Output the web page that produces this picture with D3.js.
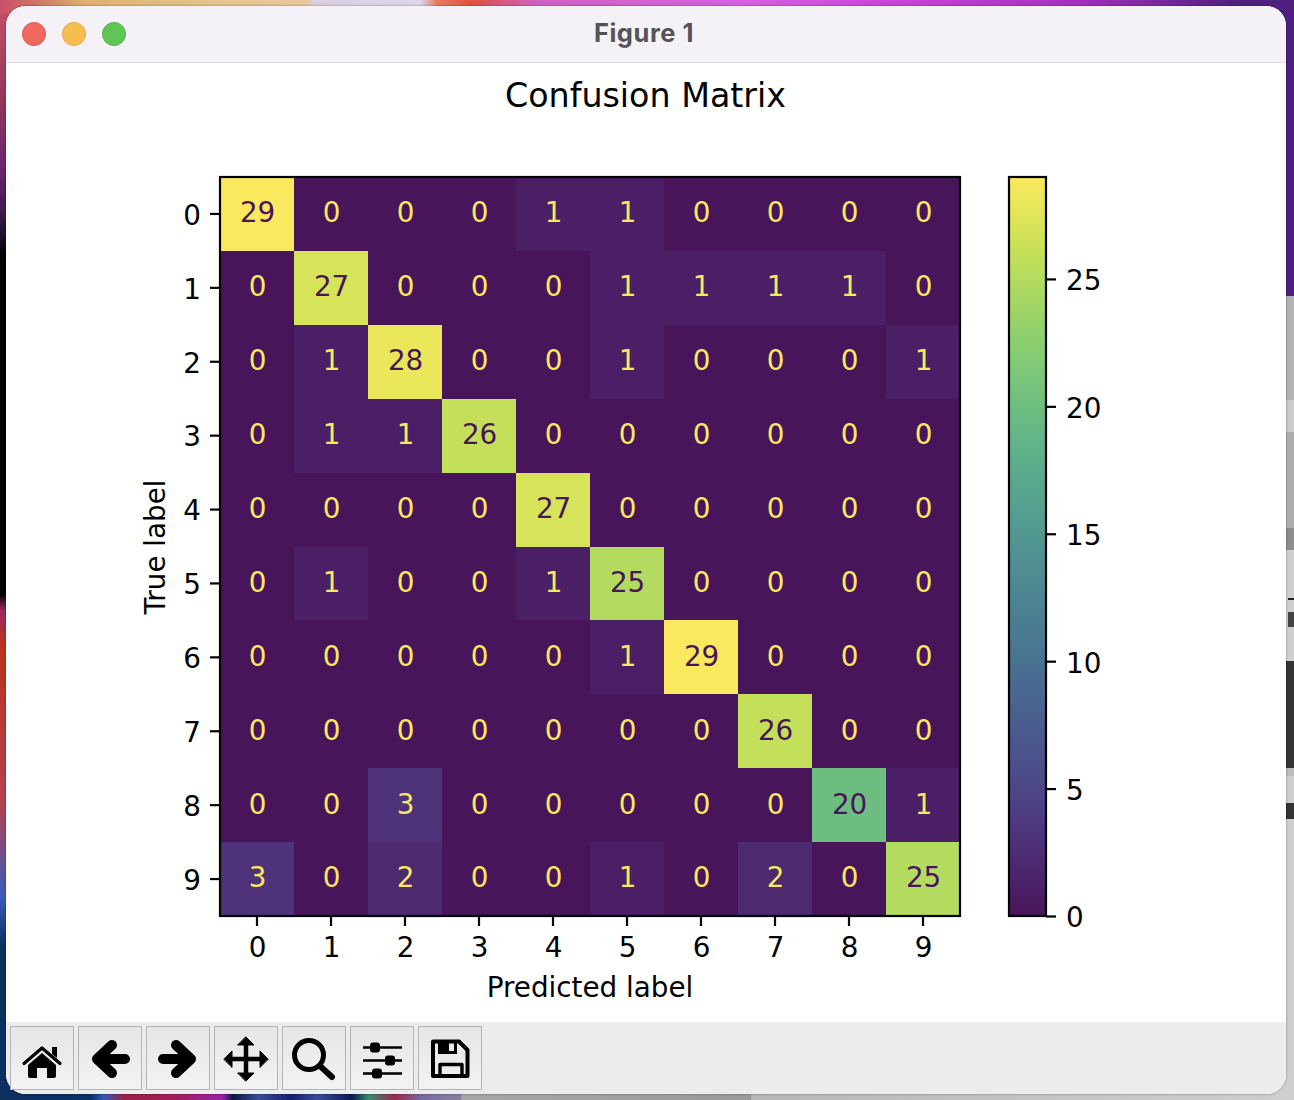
<!DOCTYPE html>
<html>
<head>
<meta charset="utf-8">
<script src="https://cdn.jsdelivr.net/npm/d3@7"></script>
<style>
html,body{margin:0;padding:0;background:#000;overflow:hidden}
svg{display:block}
text{font-family:"DejaVu Sans",sans-serif}
</style>
</head>
<body>
<svg id="c" width="1294" height="1100" viewBox="0 0 1294 1100"></svg>
<script>
// ---- chart data
const predictedLabels = ["0","1","2","3","4","5","6","7","8","9"];
const trueLabels = ["0","1","2","3","4","5","6","7","8","9"];
const row0 = [29,0,0,0,1,1,0,0,0,0];
const row1 = [0,27,0,0,0,1,1,1,1,0];
const row2 = [0,1,28,0,0,1,0,0,0,1];
const row3 = [0,1,1,26,0,0,0,0,0,0];
const row4 = [0,0,0,0,27,0,0,0,0,0];
const row5 = [0,1,0,0,1,25,0,0,0,0];
const row6 = [0,0,0,0,0,1,29,0,0,0];
const row7 = [0,0,0,0,0,0,0,26,0,0];
const row8 = [0,0,3,0,0,0,0,0,20,1];
const row9 = [3,0,2,0,0,1,0,2,0,25];
const matrix = [row0,row1,row2,row3,row4,row5,row6,row7,row8,row9];
const colorbarTicks = [0,5,10,15,20,25];
const chartTitle = "Confusion Matrix";
const xTitle = "Predicted label";
const yTitle = "True label";
const windowTitle = "Figure 1";

// ---- helpers
const svg = d3.select("#c");
const defs = svg.append("defs");
function gradient(id, stops, vertical){
  const g = defs.append("linearGradient").attr("id",id)
    .attr("x1",0).attr("y1",0).attr("x2",vertical?0:1).attr("y2",vertical?1:0);
  stops.forEach(s=>g.append("stop").attr("offset",s[0]).attr("stop-color",s[1]));
}
// viridis as seen through the Display-P3 screenshot profile of the reference
function toP3(c){
  const lin = v => { v/=255; return v<=0.04045? v/12.92 : Math.pow((v+0.055)/1.055,2.4); };
  const gam = v => { v=Math.max(0,Math.min(1,v)); return 255*(v<=0.0031308? v*12.92 : 1.055*Math.pow(v,1/2.4)-0.055); };
  const r=lin(c.r), g=lin(c.g), b=lin(c.b);
  const lift = v => v + (255-v)*0.055;
  return d3.rgb(lift(gam(.8225*r+.1774*g)), lift(gam(.0332*r+.9669*g)), lift(gam(.0171*r+.0724*g+.9108*b))).formatHex();
}
const color = d3.scaleSequential(t=>toP3(d3.rgb(d3.interpolateViridis(t)))).domain([0,29]);

// ---- desktop behind the window
const W=1294,H=1100;
gradient("top",[[0,"#c9506a"],[.03,"#d07868"],[.065,"#e0b070"],[.16,"#e3c58a"],[.238,"#e8c89c"],[.242,"#dccfe2"],[.325,"#dcd6ea"],[.338,"#e87c58"],[.365,"#e05040"],[.415,"#d062c4"],[.575,"#d860e2"],[.7,"#c842d8"],[.83,"#a830c0"],[.955,"#502080"],[1,"#4f1f7f"]],false);
gradient("left",[[0,"#c9506a"],[.09,"#96385a"],[.155,"#6c2370"],[.195,"#3a1a4a"],[.235,"#000"],[.54,"#000"],[.555,"#a0285a"],[.59,"#b9351f"],[.73,"#b54050"],[.815,"#3a5cc0"],[.86,"#0c2f5f"],[1,"#0c2f5f"]],true);
gradient("bot",[[0,"#0c2f5f"],[.07,"#0e3066"],[.08,"#3558b8"],[.096,"#9a2048"],[.14,"#a02060"],[.172,"#9a20a8"],[.18,"#0c1a40"],[.2,"#3a4c9a"],[.225,"#14206a"],[.245,"#3a4c9a"],[.272,"#0c1a50"],[.285,"#3a8a70"],[.305,"#9a2a50"],[.325,"#7a6aa0"],[.356,"#8a80a0"],[.357,"#a8a8a8"],[.58,"#9a9a9a"],[.581,"#b8b8b8"],[1,"#cfcfcf"]],false);
const bg = svg.append("g");
bg.append("rect").attr("width",W).attr("height",H).attr("fill","#000");
bg.append("rect").attr("width",12).attr("height",H).attr("fill","url(#left)");
bg.append("rect").attr("width",W).attr("height",14).attr("fill","url(#top)");
bg.append("rect").attr("y",1086).attr("width",W).attr("height",14).attr("fill","url(#bot)");
// right hand side: other windows peeking out
const side = [[14,296,"#4f1f7f"],[296,400,"#b4b4b4"],[400,432,"#cccccc"],[432,528,"#aeaeae"],[528,550,"#8e8e8e"],[550,661,"#d0d0d0"],[661,768,"#343434"],[768,776,"#bdbdbd"],[776,1086,"#cfcfcf"]];
bg.selectAll("rect.side").data(side).join("rect").attr("class","side")
  .attr("x",1280).attr("width",14).attr("y",d=>d[0]).attr("height",d=>d[1]-d[0]).attr("fill",d=>d[2]);
bg.append("rect").attr("x",1288).attr("y",598).attr("width",6).attr("height",2).attr("fill","#222");
bg.append("rect").attr("x",1288).attr("y",612).attr("width",6).attr("height",15).attr("fill","#444");
bg.append("rect").attr("x",1286).attr("y",803).attr("width",8).attr("height",16).attr("fill","#333");

// ---- window
defs.append("filter").attr("id","shadow").attr("x","-2%").attr("y","-2%").attr("width","104%").attr("height","104%")
  .append("feDropShadow").attr("dx",0).attr("dy",0).attr("stdDeviation",1.5).attr("flood-color","#000").attr("flood-opacity",.35);
defs.append("clipPath").attr("id","win").append("rect").attr("x",6).attr("y",6).attr("width",1280).attr("height",1088).attr("rx",20);
svg.append("rect").attr("x",6).attr("y",6).attr("width",1280).attr("height",1088).attr("rx",20).attr("fill","#fff").attr("filter","url(#shadow)");
const win = svg.append("g").attr("clip-path","url(#win)");
win.append("rect").attr("x",6).attr("y",6).attr("width",1280).attr("height",56).attr("fill","#f4f2f6");
win.append("rect").attr("x",6).attr("y",62).attr("width",1280).attr("height",1).attr("fill","#dcdadd");
win.append("rect").attr("x",6).attr("y",63).attr("width",1280).attr("height",959).attr("fill","#fff");
win.append("rect").attr("x",6).attr("y",1022).attr("width",1280).attr("height",72).attr("fill","#ececec");
[[34,"#f0695f","#d9534a"],[74,"#f6be4f","#dfa23c"],[114,"#5fc554","#4dab43"]].forEach(d=>{
  svg.append("circle").attr("cx",d[0]).attr("cy",34).attr("r",11.6).attr("fill",d[1]).attr("stroke",d[2]).attr("stroke-width",.8);
});
svg.append("text").attr("x",644).attr("y",42).attr("text-anchor","middle")
  .style("font-family","Inter,sans-serif").style("font-weight",700).style("font-size","25.5px").style("letter-spacing","0.55px").attr("fill","#555357").text(windowTitle);

// ---- toolbar
gradient("btn",[[0,"#e5e5e5"],[1,"#f3f3f3"]],true);
const btnX = [10,78,146,214,282,350,418];
const tb = svg.append("g");
tb.selectAll("rect").data(btnX).join("rect").attr("x",d=>d+.5).attr("y",1026.5).attr("width",63).attr("height",63)
  .attr("fill","url(#btn)").attr("stroke","#b3b3b3").attr("stroke-width",1);
const ink = tb.append("g").attr("fill","none").attr("stroke","#000").attr("stroke-linecap","round").attr("stroke-linejoin","round");
// home
ink.append("path").attr("d","M24 1063.5L42 1048L60 1063.5").attr("stroke-width",3.2);
ink.append("path").attr("d","M52 1047h5v11l-5-4z").attr("fill","#000").attr("stroke","none");
ink.append("path").attr("d","M28 1065L42 1053L56 1065V1076a2 2 0 0 1-2 2H47V1068H37V1078H30a2 2 0 0 1-2-2z").attr("fill","#000").attr("stroke","none");
// back / forward
ink.append("path").attr("d","M125 1059H98M112 1045L97 1059L112 1073").attr("stroke-width",10);
ink.append("path").attr("d","M163 1059H190M176 1045L191 1059L176 1073").attr("stroke-width",10);
// move
ink.append("path").attr("d","M228 1059H264M246 1041V1077").attr("stroke-width",4.5).attr("stroke-linecap","butt");
ink.append("path").attr("d","M246 1037l8 8h-16zM246 1081l8-8h-16zM224 1059l8-8v16zM268 1059l-8-8v16z").attr("fill","#000").attr("stroke","#000").attr("stroke-width",1);
// zoom
ink.append("circle").attr("cx",309).attr("cy",1055).attr("r",14.5).attr("stroke-width",5);
ink.append("path").attr("d","M320 1066L332 1077").attr("stroke-width",6);
// sliders
ink.append("path").attr("d","M363 1047.5H402M363 1060.5H402M363 1073.5H402").attr("stroke-width",2.4).attr("stroke-linecap","butt");
[[375,1047.5],[390,1060.5],[377,1073.5]].forEach(k=>{
  ink.append("rect").attr("x",k[0]-5).attr("y",k[1]-5).attr("width",10).attr("height",10).attr("rx",3).attr("fill","#000").attr("stroke","none");
});
// save
ink.append("path").attr("d","M433 1041.5H459L467.5 1050V1076H433z").attr("stroke-width",4);
ink.append("path").attr("d","M438 1041H457V1054H438z M449 1043V1051H454V1043z").attr("fill","#000").attr("fill-rule","evenodd").attr("stroke","none");
ink.append("path").attr("d","M440 1076V1064.5H462V1076").attr("stroke-width",3.4);

// ---- heatmap
const plot = {left:220,right:960,top:177,bottom:916};
const x = d3.scaleBand().domain(predictedLabels).range([plot.left,plot.right]);
const y = d3.scaleBand().domain(trueLabels).range([plot.top,plot.bottom]);
const FS = 27.8;
const cells = matrix.flatMap((r,i)=>r.map((v,j)=>({i,j,v})));
const g = svg.append("g");
g.selectAll("rect.cell").data(cells).join("rect").attr("class","cell")
  .attr("x",d=>x(predictedLabels[d.j])).attr("y",d=>y(trueLabels[d.i]))
  .attr("width",x.bandwidth()).attr("height",y.bandwidth())
  .attr("shape-rendering","crispEdges")
  .attr("fill",d=>color(d.v));
g.selectAll("text.val").data(cells).join("text").attr("class","val")
  .attr("x",d=>x(predictedLabels[d.j])+x.bandwidth()/2+.6)
  .attr("y",d=>y(trueLabels[d.i])+y.bandwidth()/2+8.4)
  .attr("text-anchor","middle").style("font-size",FS+"px")
  .attr("fill",d=>d.v>=14.5?color(0):color(29)).text(d=>d.v);
g.append("rect").attr("x",plot.left).attr("y",plot.top).attr("width",plot.right-plot.left).attr("height",plot.bottom-plot.top)
  .attr("fill","none").attr("stroke","#000").attr("stroke-width",2.2);

function styleAxis(sel){
  sel.select(".domain").remove();
  sel.selectAll(".tick line").attr("stroke","#000").attr("stroke-width",2.2);
  sel.selectAll(".tick text").attr("fill","#000").style("font-size",FS+"px").style("font-family",'"DejaVu Sans",sans-serif');
}
svg.append("g").attr("transform",`translate(0,${plot.bottom})`)
  .call(d3.axisBottom(x).tickSize(10).tickPadding(11)).call(styleAxis)
  .selectAll(".tick text").attr("dx",.7);
svg.append("g").attr("transform",`translate(${plot.left},0)`)
  .call(d3.axisLeft(y).tickSize(10).tickPadding(9)).call(styleAxis)
  .selectAll(".tick text").attr("dy","0.39em");
svg.append("text").attr("x",645.5).attr("y",107).attr("text-anchor","middle").style("font-size","33.3px").attr("fill","#000").text(chartTitle);
svg.append("text").attr("x",590).attr("y",997).attr("text-anchor","middle").style("font-size",FS+"px").attr("fill","#000").text(xTitle);
svg.append("text").attr("transform","translate(165,547) rotate(-90)").attr("text-anchor","middle").style("font-size",FS+"px").attr("fill","#000").text(yTitle);

// ---- colour bar
const cb = {left:1009,right:1046};
const cy = d3.scaleLinear().domain([0,29]).range([plot.bottom,plot.top]);
const cbGrad = defs.append("linearGradient").attr("id","cbar").attr("x1",0).attr("y1",1).attr("x2",0).attr("y2",0);
d3.range(0,1.0001,.04).forEach(t=>cbGrad.append("stop").attr("offset",t).attr("stop-color",color(t*29)));
svg.append("rect").attr("x",cb.left).attr("y",plot.top).attr("width",cb.right-cb.left).attr("height",plot.bottom-plot.top)
  .attr("fill","url(#cbar)").attr("stroke","#000").attr("stroke-width",2.2);
svg.append("g").attr("transform",`translate(${cb.right},0)`)
  .call(d3.axisRight(cy).tickValues(colorbarTicks).tickFormat(d3.format("d")).tickSize(10).tickPadding(10)).call(styleAxis)
  .selectAll(".tick text").attr("dy","0.39em");
</script>
</body>
</html>
